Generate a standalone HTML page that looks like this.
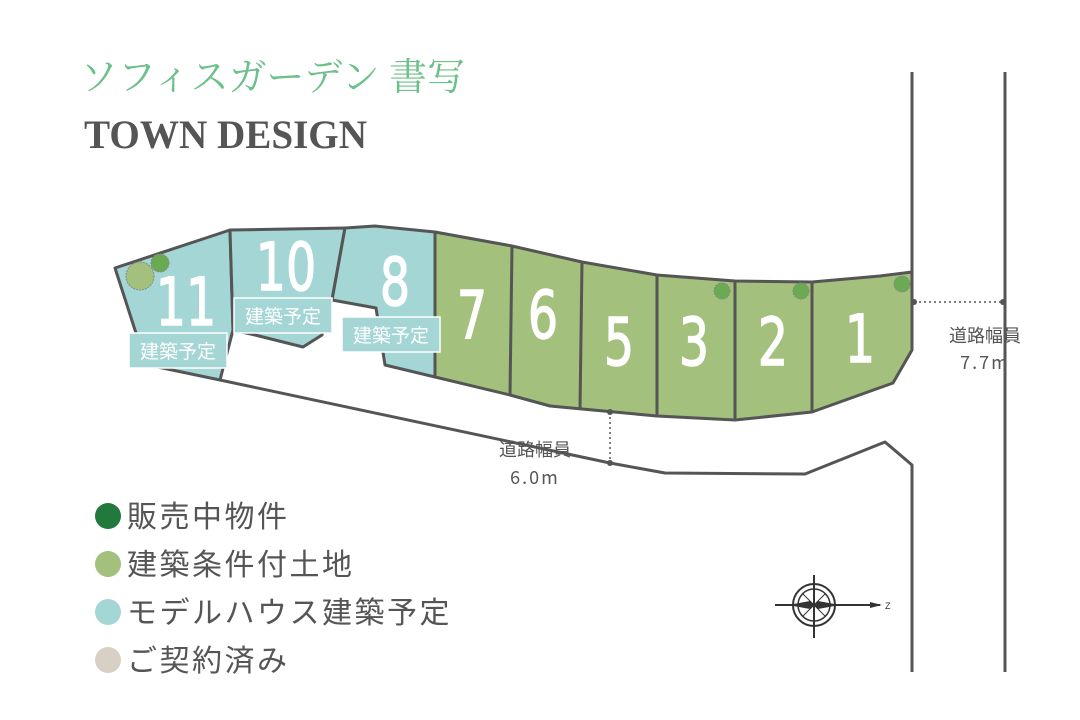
<!DOCTYPE html>
<html><head><meta charset="utf-8"><style>
html,body{margin:0;padding:0;background:#fff}
svg{display:block}
</style></head><body>
<svg width="1080" height="720" viewBox="0 0 1080 720" xmlns="http://www.w3.org/2000/svg">
<text x="80" y="90" font-family="Noto Serif CJK SC, serif" font-size="38" fill="#6cc08a" textLength="385" lengthAdjust="spacingAndGlyphs">ソフィスガーデン 書写</text>
<text x="84" y="148" font-family="Liberation Serif, serif" font-weight="bold" font-size="40" fill="#555" textLength="283" lengthAdjust="spacingAndGlyphs">TOWN DESIGN</text>

<g stroke="#555" stroke-width="3" stroke-linejoin="round">
<polygon points="115,268 230,230 233,330 220,380 148,365 135,330" fill="#a3d6d4"/>
<polygon points="230,230 345,228 332,300 322,335 303,347 255,335 233,330" fill="#a3d6d4"/>
<polygon points="345,228 375,226 435,232 435,377 385,365 376,308 332,300" fill="#a3d6d4"/>
<polygon points="435,232 512,246 582,262 657,275 735,281 812,282 880,276 912,272 912,350 893,383 812,412 735,420 657,416 582,409 550,406 510,395 435,377" fill="#a3c07c"/>
<g fill="none">
<line x1="512" y1="246" x2="510" y2="395"/>
<line x1="582" y1="262" x2="580" y2="409"/>
<line x1="657" y1="275" x2="657" y2="416"/>
<line x1="735" y1="281" x2="735" y2="420"/>
<line x1="812" y1="282" x2="812" y2="412"/>
<polyline points="220,380 610,463 665,473 805,474 885,442 912,465 912,672"/>
<line x1="912" y1="72" x2="912" y2="350"/>
<line x1="1005" y1="72" x2="1005" y2="672"/>
</g>
</g>
<g stroke="#555" stroke-width="1.5" stroke-dasharray="2,3">
<line x1="914" y1="302" x2="1003" y2="302"/>
<line x1="610" y1="412" x2="610" y2="463"/>
</g>
<circle cx="914" cy="302" r="3" fill="#555"/><circle cx="1003" cy="302" r="3" fill="#555"/>
<circle cx="610" cy="412" r="3" fill="#555"/><circle cx="610" cy="463" r="3" fill="#555"/>

<circle cx="140" cy="276" r="14" fill="#a3c07c" stroke="#888" stroke-dasharray="2,1"/>
<circle cx="160" cy="263" r="9" fill="#6aaa50" stroke="#888" stroke-dasharray="2,1"/>
<circle cx="722" cy="291" r="8" fill="#6aaa50" stroke="#888" stroke-dasharray="2,1"/>
<circle cx="801" cy="291" r="8" fill="#6aaa50" stroke="#888" stroke-dasharray="2,1"/>
<circle cx="902" cy="284" r="8" fill="#6aaa50" stroke="#888" stroke-dasharray="2,1"/>

<g font-family="DejaVu Sans, sans-serif" font-size="66" fill="#fff" stroke="#fff" stroke-width="1.5" text-anchor="middle">
<text transform="translate(186,325) scale(0.72,1)">11</text>
<text transform="translate(286,290) scale(0.72,1)">10</text>
<text transform="translate(395,305) scale(0.72,1)">8</text>
<text transform="translate(472,338) scale(0.72,1)">7</text>
<text transform="translate(543,338) scale(0.72,1)">6</text>
<text transform="translate(619,365) scale(0.72,1)">5</text>
<text transform="translate(694,365) scale(0.72,1)">3</text>
<text transform="translate(773,365) scale(0.72,1)">2</text>
<text transform="translate(860,362) scale(0.72,1)">1</text>
</g>
<g fill="#a3d6d4" stroke="#fff" stroke-width="1.5">
<rect x="129" y="333" width="98" height="35"/>
<rect x="234" y="298" width="98" height="35"/>
<rect x="342" y="317" width="98" height="35"/>
</g>
<g font-family="Noto Sans CJK JP, sans-serif" font-size="19" fill="#fff" text-anchor="middle">
<text x="178" y="358">建築予定</text>
<text x="283" y="323">建築予定</text>
<text x="391" y="342">建築予定</text>
</g>
<g font-family="Noto Sans CJK JP, sans-serif" font-size="18" fill="#555" text-anchor="middle">
<text x="535" y="456">道路幅員</text>
<text x="535" y="484" letter-spacing="2">6.0m</text>
<text x="985" y="342">道路幅員</text>
<text x="985" y="369" letter-spacing="2">7.7m</text>
</g>

<g font-family="Noto Sans CJK JP, sans-serif" font-size="30" fill="#555" letter-spacing="2.5">
<circle cx="108" cy="516" r="13" fill="#217a3c"/><text x="127" y="527">販売中物件</text>
<circle cx="108" cy="564" r="13" fill="#a3c07c"/><text x="127" y="575">建築条件付土地</text>
<circle cx="108" cy="612" r="13" fill="#a3d6d4"/><text x="127" y="623">モデルハウス建築予定</text>
<circle cx="108" cy="660" r="13" fill="#d9d0c5"/><text x="127" y="671">ご契約済み</text>
</g>

<g stroke="#333" fill="none">
<circle cx="814" cy="605" r="21" stroke-width="2"/>
<circle cx="814" cy="605" r="16" stroke-width="1.5"/>
<line x1="814" y1="575" x2="814" y2="638" stroke-width="2"/>
<line x1="775" y1="605" x2="880" y2="605" stroke-width="2"/>
<line x1="803" y1="594" x2="825" y2="616"/><line x1="825" y1="594" x2="803" y2="616"/>
</g>
<polygon points="814,605 818,601 840,605 818,609" fill="#333"/>
<polygon points="814,605 810,609 788,605 810,601" fill="#333"/>
<polygon points="870,602 882,605 870,608" fill="#333"/>
<text x="885" y="609" font-family="Liberation Sans, sans-serif" font-size="9" fill="#333">Z</text>
</svg>
</body></html>
